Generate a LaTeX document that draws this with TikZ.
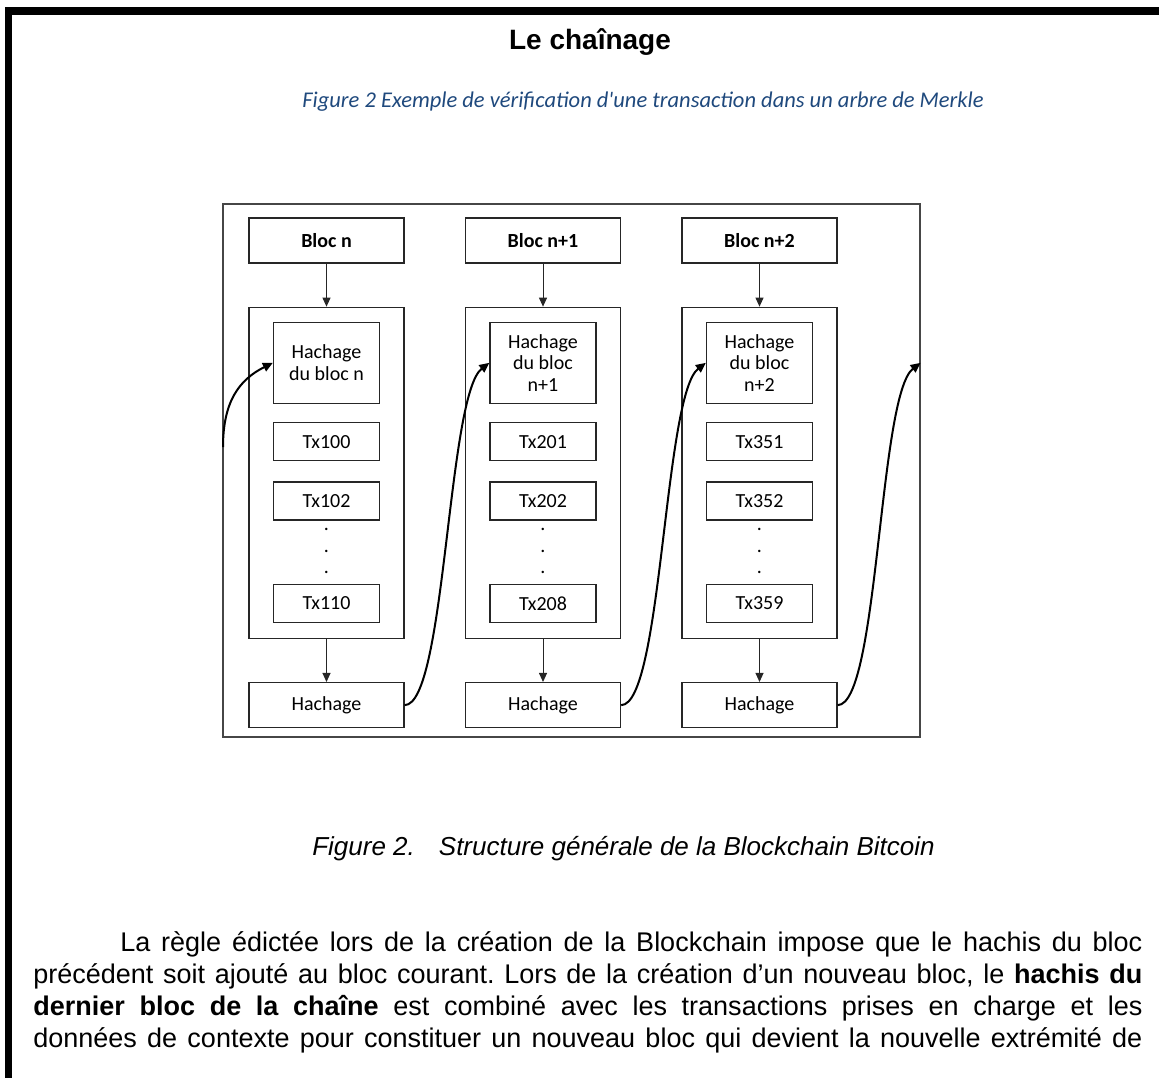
\documentclass[tikz,border=0pt]{standalone}
\usepackage{fontspec}
\setmainfont{Liberation Sans}
\newfontfamily\calibri{Carlito}
\usepackage{tikz}
\usetikzlibrary{arrows.meta,positioning,calc}
\definecolor{captionblue}{RGB}{31,73,125}
\definecolor{framegray}{RGB}{70,70,70}

\begin{document}
\frenchspacing
\begin{tikzpicture}[x=0.5pt, y=-0.5pt,
    box/.style={rectangle, draw=black!85, line width=0.65pt, align=center, inner sep=1pt, font=\calibri\fontsize{10}{10.75}\selectfont},
    headbox/.style={box, minimum width=77.5pt, minimum height=22.5pt, font=\calibri\bfseries\fontsize{10}{10.75}\selectfont},
    blockbox/.style={box, minimum width=77.5pt, minimum height=165.5pt},
    hashbox/.style={box, minimum width=53pt, minimum height=40.5pt},
    txbox/.style={box, minimum width=53pt, minimum height=19pt},
    outbox/.style={box, minimum width=77.5pt, minimum height=22.5pt},
    link/.style={-{Triangle[length=4.5pt, width=4pt]}, line width=0.5pt, black!85},
    chain/.style={-{Triangle[length=5pt, width=4.5pt]}, line width=1pt},
    para/.style={anchor=base west, inner sep=0pt, font=\fontsize{13.5}{16}\selectfont},
  ]
  \useasboundingbox (0,0) rectangle (1159,1078);
  \fill (5,7) rectangle (1159,15);
  \fill (5,7) rectangle (12,1078);

  \node[font=\bfseries\fontsize{14}{17}\selectfont] (title) at (590,42) {Le chaînage};
  \node[font=\calibri\itshape\fontsize{11.25}{14}\selectfont, text=captionblue] (merkle) at (643,102) {Figure 2 Exemple de vérification d'une transaction dans un arbre de Merkle};

  \node[draw=framegray, line width=0.6pt, minimum width=348.5pt, minimum height=266.5pt] (frame) at (571.5,470.5) {};

  \foreach \i/\blk/\htext/\txA/\txB/\txC in {0/n/{Hachage\\du bloc n}/100/102/110, 1/n+1/{Hachage\\du bloc\\n+1}/201/202/208, 2/n+2/{Hachage\\du bloc\\n+2}/351/352/359} {
    \node[headbox] (bloc\i) at ({326.5+216.5*\i},240.5) {Bloc \blk};
    \node[blockbox, below=21.5pt of bloc\i] (cont\i) {};
    \node[hashbox, below=7.5pt of cont\i.north] (hash\i) {\htext};
    \node[txbox, below=9pt of hash\i] (txa\i) {Tx\txA};
    \node[txbox, below=10pt of txa\i] (txb\i) {Tx\txB};
    \node[txbox, above=8pt of cont\i.south] (txc\i) {Tx\txC};
    \foreach \k in {0,1,2}
      \node[anchor=base, inner sep=0pt, font=\calibri\fontsize{10}{10.75}\selectfont] (dot\i\k) at ($(txb\i.south)+(0,{10+21.5*\k})$) {.};
    \node[outbox, below=21.5pt of cont\i] (hach\i) {Hachage};
    \draw[link] (bloc\i) -- (cont\i);
    \draw[link] (cont\i) -- (hach\i);
  }

  \coordinate (entry) at (223,447);
  \draw[chain] (entry) .. controls +(0,-45) and +(-34,17) .. (hash0.west);
  \draw[chain] (hach0.east) .. controls +(41,0) and +(-42,32) .. (hash1.west);
  \draw[chain] (hach1.east) .. controls +(41,0) and +(-42,32) .. (hash2.west);
  \draw[chain] (hach2.east) .. controls +(41,0) and +(-42,32) .. (hash2.west -| frame.east);

  \node[font=\itshape\fontsize{13}{15}\selectfont] (caption) at (623.5,849) {Figure 2.\hspace{12pt}Structure générale de la Blockchain Bitcoin};

  \node[para] (line1) at (120,951) {\makebox[511pt][s]{La règle édictée lors de la création de la Blockchain impose que le hachis du bloc}};
  \node[para] (line2) at (33,983) {\makebox[554.5pt][s]{précédent soit ajouté au bloc courant. Lors de la création d’un nouveau bloc, le \textbf{hachis du}}};
  \node[para] (line3) at (33,1015) {\makebox[554.5pt][s]{\textbf{dernier bloc de la chaîne} est combiné avec les transactions prises en charge et les}};
  \node[para] (line4) at (33,1047) {\makebox[554.5pt][s]{données de contexte pour constituer un nouveau bloc qui devient la nouvelle extrémité de}};
\end{tikzpicture}
\end{document}
